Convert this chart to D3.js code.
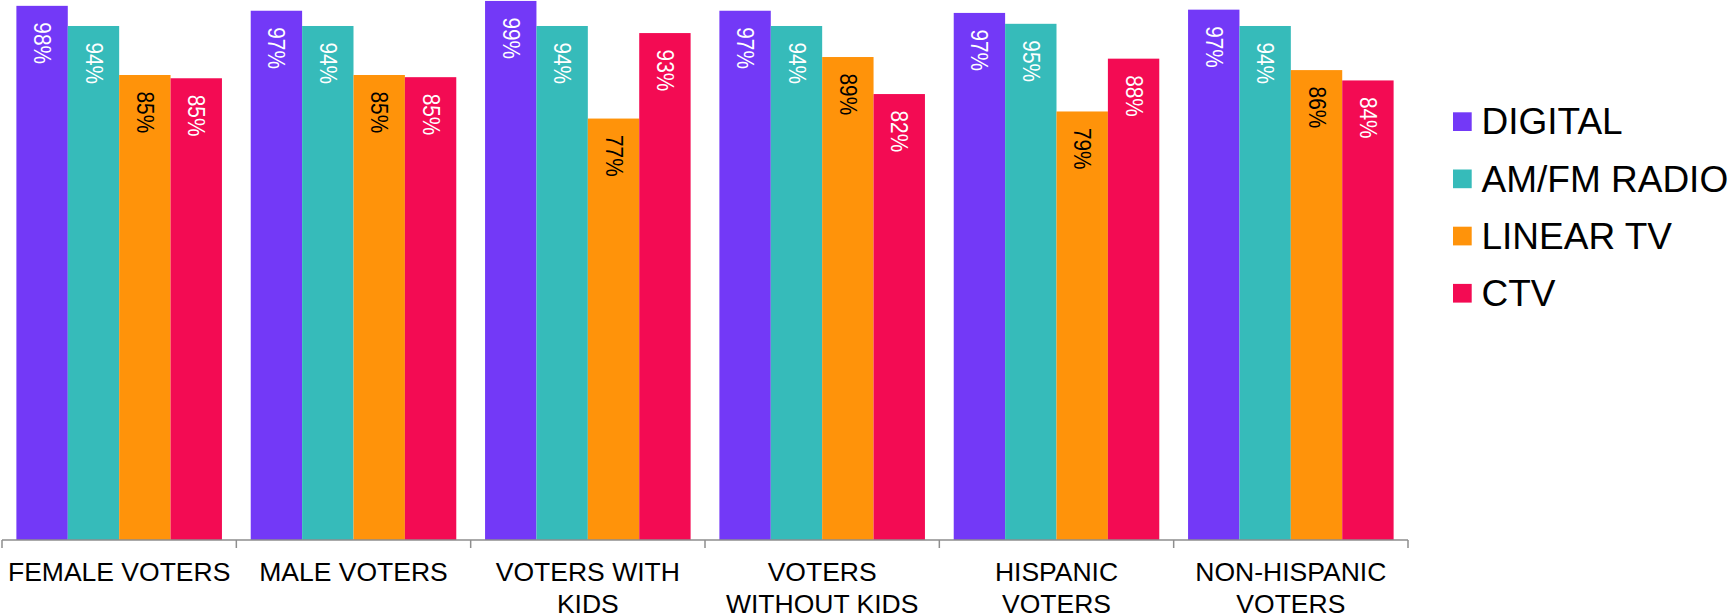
<!DOCTYPE html>
<html>
<head>
<meta charset="utf-8">
<script src="https://cdn.jsdelivr.net/npm/d3@7"></script>
<style>
  html, body { margin: 0; padding: 0; background: #ffffff; }
  svg { display: block; font-family: "Liberation Sans", Arial, sans-serif; }
</style>
</head>
<body>
<svg id="chart" width="1729" height="613"></svg>
<script>
const categories = [
  ["FEMALE VOTERS"],
  ["MALE VOTERS"],
  ["VOTERS WITH", "KIDS"],
  ["VOTERS", "WITHOUT KIDS"],
  ["HISPANIC", "VOTERS"],
  ["NON-HISPANIC", "VOTERS"]
];
const seriesNames = ["DIGITAL", "AM/FM RADIO", "LINEAR TV", "CTV"];
const digital   = [98.1, 97.2, 99.0, 97.2, 96.8, 97.4];
const amfmRadio = [94.4, 94.4, 94.4, 94.4, 94.8, 94.4];
const linearTv  = [85.4, 85.4, 77.4, 88.7, 78.7, 86.3];
const ctv       = [84.8, 85.0, 93.1, 81.9, 88.4, 84.4];
const seriesColors = ["#7339F7", "#36BBBA", "#FF930A", "#F30B53"];
const labelColors = ["#ffffff", "#ffffff", "#000000", "#ffffff"];

const seriesValues = [digital, amfmRadio, linearTv, ctv];

const svg = d3.select("#chart");

const x0 = d3.scaleBand()
  .domain(d3.range(categories.length))
  .range([2, 1408])
  .paddingInner(0)
  .paddingOuter(0);

const x1 = d3.scaleBand()
  .domain(d3.range(seriesNames.length))
  .range([0, x0.bandwidth()])
  .paddingOuter(0.28)
  .paddingInner(0);

const y = d3.scaleLinear().domain([0, 100]).range([540, -4.5]);

const groups = svg.append("g").selectAll("g")
  .data(categories.map((c, i) => i))
  .join("g")
  .attr("transform", i => `translate(${x0(i)},0)`);

groups.selectAll("rect")
  .data(i => seriesValues.map((vals, s) => ({ s, v: vals[i] })))
  .join("rect")
  .attr("x", d => x1(d.s))
  .attr("width", x1.bandwidth())
  .attr("y", d => y(d.v))
  .attr("height", d => y(0) - y(d.v))
  .attr("fill", d => seriesColors[d.s]);

groups.selectAll("text.val")
  .data(i => seriesValues.map((vals, s) => ({ s, v: vals[i] })))
  .join("text")
  .attr("class", "val")
  .attr("transform", d => `translate(${x1(d.s) + x1.bandwidth() / 2},${y(d.v) + 16.5}) rotate(90) scale(1,1.13)`)
  .attr("text-anchor", "start")
  .attr("dominant-baseline", "central")
  .attr("font-size", "20.8px")
  .attr("fill", d => labelColors[d.s])
  .text(d => Math.round(d.v) + "%");

// Axis
const axisColor = "#8e8e8e";
const axisG = svg.append("g");
axisG.append("line")
  .attr("x1", x0.range()[0]).attr("x2", x0.range()[1])
  .attr("y1", y(0)).attr("y2", y(0))
  .attr("stroke", axisColor).attr("stroke-width", 1.5);
const tickPos = d3.range(categories.length + 1).map(i => i < categories.length ? x0(i) : x0.range()[1]);
axisG.selectAll("line.tick")
  .data(tickPos)
  .join("line")
  .attr("class", "tick")
  .attr("x1", d => d).attr("x2", d => d)
  .attr("y1", y(0)).attr("y2", y(0) + 8)
  .attr("stroke", axisColor).attr("stroke-width", 1.5);

// Category labels
const catText = svg.append("g").selectAll("text")
  .data(categories)
  .join("text")
  .attr("x", (d, i) => x0(i) + x0.bandwidth() / 2)
  .attr("y", 581)
  .attr("text-anchor", "middle")
  .attr("font-size", "26.5px")
  .attr("fill", "#000");
catText.selectAll("tspan")
  .data(d => d)
  .join("tspan")
  .attr("x", function() { return d3.select(this.parentNode).attr("x"); })
  .attr("dy", (d, j) => j === 0 ? 0 : 31.6)
  .text(d => d);

// Legend
const legend = svg.append("g").selectAll("g")
  .data(seriesNames)
  .join("g")
  .attr("transform", (d, i) => `translate(1453,${112.3 + i * 57.2})`);
legend.append("rect")
  .attr("width", 18.7).attr("height", 18.7)
  .attr("fill", (d, i) => seriesColors[i]);
legend.append("text")
  .attr("x", 28.5)
  .attr("y", 22)
  .attr("font-size", "37px")
  .attr("fill", "#000")
  .text(d => d);
</script>
</body>
</html>
